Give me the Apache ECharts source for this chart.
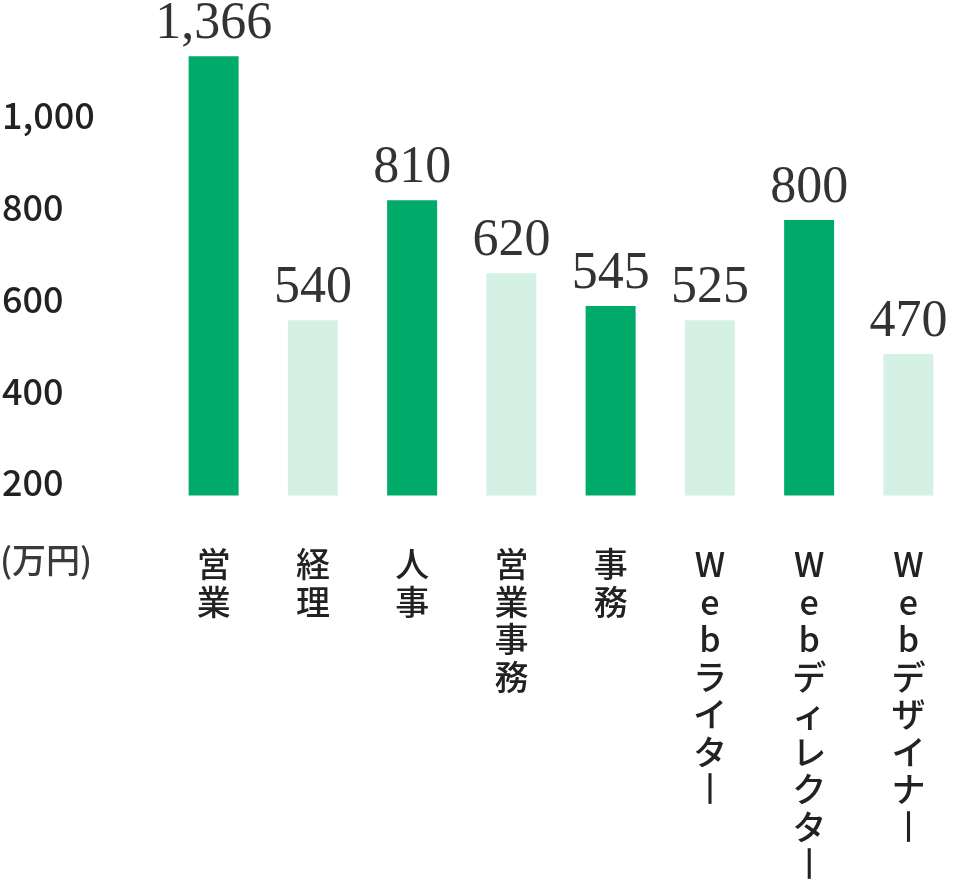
<!DOCTYPE html>
<html>
<head>
<meta charset="utf-8">
<script src="https://cdn.jsdelivr.net/npm/echarts@6/dist/echarts.min.js"></script>
<style>
html,body{margin:0;padding:0;background:#fff;}
#chart{width:953px;height:879px;}
</style>
</head>
<body>
<div id="chart"></div>
<script>
// Categories (job types)
const categories = ['営業', '経理', '人事', '営業事務', '事務', 'Webライター', 'Webディレクター', 'Webデザイナー'];
// Bar heights as read against the axis (万円)
const barHeights = [1129, 554, 815, 656, 585, 554, 772, 480];
// Values printed above the bars (万円)
const valueLabels = [1366, 540, 810, 620, 545, 525, 800, 470];
// Y-axis tick labels
const yTicks = [200, 400, 600, 800, 1000];
const unitLabel = '(万円)';

const DARK = '#00ab6a';
const LIGHT = '#d5f0e4';
const fmt = v => v.toLocaleString('en-US');
// vertical typesetting: one character per line, long-vowel mark shown in its vertical form
const vertical = s => Array.from(s).map(c => (c === 'ー' ? '{v|︱}' : c)).join('\n');

const chart = echarts.init(document.getElementById('chart'));
chart.setOption({
  animation: false,
  backgroundColor: '#fff',
  grid: {
    left: 164, width: 794, top: 23.6, bottom: 383.5,
    containLabel: false,
    outerBoundsMode: 'none'
  },
  xAxis: {
    type: 'category',
    data: categories,
    axisLine: { show: false },
    axisTick: { show: false },
    axisLabel: {
      interval: 0,
      margin: 50,
      fontFamily: 'Noto Sans CJK JP',
      fontWeight: 500,
      fontSize: 34,
      lineHeight: 37.5,
      color: '#222',
      formatter: v => vertical(v),
      rich: {
        v: {
          fontFamily: 'Noto Sans CJK JP',
          fontSize: 34,
          lineHeight: 37.5,
          color: '#222',
          textBorderColor: '#222',
          textBorderWidth: 1.6
        }
      }
    }
  },
  yAxis: {
    type: 'value',
    min: 172,
    max: 1200,
    axisLine: { show: false },
    axisTick: { show: false },
    splitLine: { show: false },
    axisLabel: {
      customValues: yTicks,
      align: 'left',
      margin: 162,
      fontFamily: 'Noto Sans CJK JP',
      fontWeight: 500,
      fontSize: 36,
      color: '#222',
      formatter: v => fmt(v)
    }
  },
  graphic: [{
    type: 'text',
    left: 0,
    top: 543,
    style: {
      text: unitLabel,
      font: '500 34px "Noto Sans CJK JP"',
      fill: '#3a3a3a'
    }
  }],
  series: [{
    type: 'bar',
    data: barHeights,
    barWidth: 50,
    itemStyle: {
      color: p => (p.dataIndex % 2 === 0 ? DARK : LIGHT)
    },
    label: {
      show: true,
      position: 'top',
      distance: 6,
      fontFamily: 'Liberation Serif',
      fontSize: 52,
      color: '#333',
      formatter: p => fmt(valueLabels[p.dataIndex])
    }
  }]
});
</script>
</body>
</html>
